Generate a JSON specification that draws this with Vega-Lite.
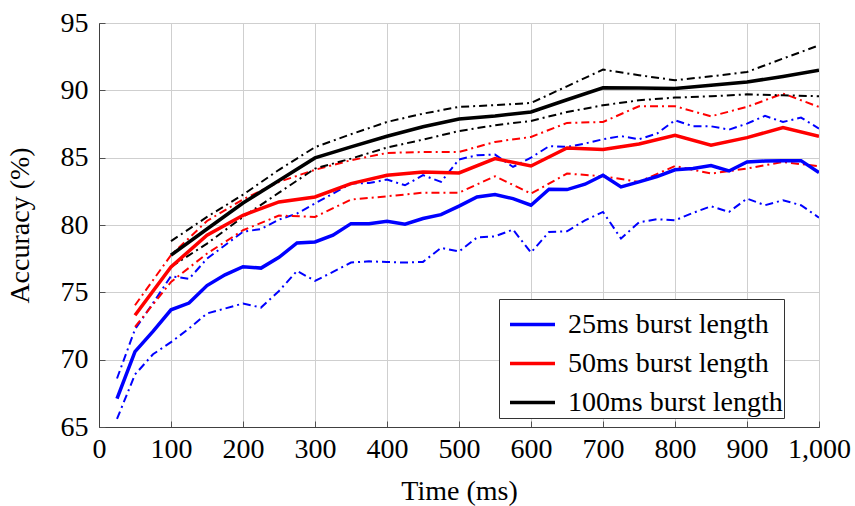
{
  "$schema": "https://vega.github.io/schema/vega-lite/v6.json",
  "autosize": "none",
  "width": 720,
  "height": 404,
  "padding": {"left": 99, "top": 23, "right": 36, "bottom": 79},
  "background": "white",
  "config": {
    "view": {"stroke": "#404040", "strokeWidth": 1},
    "font": "Liberation Serif",
    "style": {
      "guide-label": {"font": "Liberation Serif", "fontSize": 28, "fill": "#000"},
      "guide-title": {"font": "Liberation Serif", "fontSize": 28, "fill": "#000"}
    },
    "axis": {
      "labelFont": "Liberation Serif",
      "labelFontSize": 28,
      "labelColor": "#000",
      "labelOverlap": false,
      "labelFlush": false,
      "titleFont": "Liberation Serif",
      "titleFontSize": 28,
      "titleFontWeight": "normal",
      "titleColor": "#000",
      "gridColor": "#cfcfcf",
      "gridWidth": 1,
      "domainColor": "#404040",
      "tickColor": "#505050",
      "tickSize": -6,
      "labelPadding": 17
    },
    "legend": {
      "labelFont": "Liberation Serif",
      "labelFontSize": 28,
      "labelColor": "#000"
    }
  },
  "datasets": {
    "acc": [
      {"time": 25, "series": "25ms burst length", "mean": 67.1, "upper": 68.6, "lower": 65.6},
      {"time": 50, "series": "25ms burst length", "mean": 70.6, "upper": 72.25, "lower": 68.9},
      {"time": 75, "series": "25ms burst length", "mean": 72.1, "upper": 74.2, "lower": 70.4},
      {"time": 100, "series": "25ms burst length", "mean": 73.7, "upper": 76.2, "lower": 71.3},
      {"time": 125, "series": "25ms burst length", "mean": 74.2, "upper": 76.0, "lower": 72.31},
      {"time": 150, "series": "25ms burst length", "mean": 75.5, "upper": 77.5, "lower": 73.43},
      {"time": 175, "series": "25ms burst length", "mean": 76.3, "upper": 78.5, "lower": 73.8},
      {"time": 200, "series": "25ms burst length", "mean": 76.9, "upper": 79.5, "lower": 74.17},
      {"time": 225, "series": "25ms burst length", "mean": 76.8, "upper": 79.7, "lower": 73.87},
      {"time": 250, "series": "25ms burst length", "mean": 77.6, "upper": 80.4, "lower": 75.1},
      {"time": 275, "series": "25ms burst length", "mean": 78.67, "upper": 80.85, "lower": 76.59},
      {"time": 300, "series": "25ms burst length", "mean": 78.74, "upper": 81.6, "lower": 75.85},
      {"time": 325, "series": "25ms burst length", "mean": 79.24, "upper": 82.33, "lower": 76.52},
      {"time": 350, "series": "25ms burst length", "mean": 80.1, "upper": 83.08, "lower": 77.21},
      {"time": 375, "series": "25ms burst length", "mean": 80.1, "upper": 83.12, "lower": 77.3},
      {"time": 400, "series": "25ms burst length", "mean": 80.28, "upper": 83.37, "lower": 77.26},
      {"time": 425, "series": "25ms burst length", "mean": 80.06, "upper": 82.95, "lower": 77.21},
      {"time": 450, "series": "25ms burst length", "mean": 80.48, "upper": 83.7, "lower": 77.26},
      {"time": 475, "series": "25ms burst length", "mean": 80.77, "upper": 83.2, "lower": 78.3},
      {"time": 500, "series": "25ms burst length", "mean": 81.4, "upper": 84.87, "lower": 78.03},
      {"time": 525, "series": "25ms burst length", "mean": 82.08, "upper": 85.18, "lower": 79.07},
      {"time": 550, "series": "25ms burst length", "mean": 82.26, "upper": 85.23, "lower": 79.16},
      {"time": 575, "series": "25ms burst length", "mean": 81.96, "upper": 84.31, "lower": 79.66},
      {"time": 600, "series": "25ms burst length", "mean": 81.47, "upper": 85.0, "lower": 77.95},
      {"time": 625, "series": "25ms burst length", "mean": 82.65, "upper": 85.85, "lower": 79.48},
      {"time": 650, "series": "25ms burst length", "mean": 82.63, "upper": 85.8, "lower": 79.53},
      {"time": 675, "series": "25ms burst length", "mean": 83.03, "upper": 86.05, "lower": 80.35},
      {"time": 700, "series": "25ms burst length", "mean": 83.7, "upper": 86.37, "lower": 80.97},
      {"time": 725, "series": "25ms burst length", "mean": 82.83, "upper": 86.6, "lower": 78.99},
      {"time": 750, "series": "25ms burst length", "mean": 83.2, "upper": 86.37, "lower": 80.2},
      {"time": 775, "series": "25ms burst length", "mean": 83.6, "upper": 86.79, "lower": 80.43},
      {"time": 800, "series": "25ms burst length", "mean": 84.1, "upper": 87.78, "lower": 80.35},
      {"time": 825, "series": "25ms burst length", "mean": 84.19, "upper": 87.33, "lower": 80.9},
      {"time": 850, "series": "25ms burst length", "mean": 84.41, "upper": 87.33, "lower": 81.39},
      {"time": 875, "series": "25ms burst length", "mean": 84.01, "upper": 87.08, "lower": 80.97},
      {"time": 900, "series": "25ms burst length", "mean": 84.68, "upper": 87.53, "lower": 81.96},
      {"time": 925, "series": "25ms burst length", "mean": 84.75, "upper": 88.1, "lower": 81.47},
      {"time": 950, "series": "25ms burst length", "mean": 84.78, "upper": 87.65, "lower": 81.84},
      {"time": 975, "series": "25ms burst length", "mean": 84.78, "upper": 87.98, "lower": 81.47},
      {"time": 1000, "series": "25ms burst length", "mean": 83.89, "upper": 87.16, "lower": 80.55},
      {"time": 50, "series": "50ms burst length", "mean": 73.3, "upper": 74.04, "lower": 72.43},
      {"time": 100, "series": "50ms burst length", "mean": 76.89, "upper": 77.76, "lower": 75.77},
      {"time": 150, "series": "50ms burst length", "mean": 79.24, "upper": 80.3, "lower": 77.88},
      {"time": 200, "series": "50ms burst length", "mean": 80.72, "upper": 81.9, "lower": 79.61},
      {"time": 250, "series": "50ms burst length", "mean": 81.71, "upper": 83.2, "lower": 80.7},
      {"time": 300, "series": "50ms burst length", "mean": 82.08, "upper": 84.1, "lower": 80.6},
      {"time": 350, "series": "50ms burst length", "mean": 83.07, "upper": 84.81, "lower": 81.89},
      {"time": 400, "series": "50ms burst length", "mean": 83.69, "upper": 85.35, "lower": 82.13},
      {"time": 450, "series": "50ms burst length", "mean": 83.94, "upper": 85.42, "lower": 82.4},
      {"time": 500, "series": "50ms burst length", "mean": 83.87, "upper": 85.42, "lower": 82.4},
      {"time": 550, "series": "50ms burst length", "mean": 84.93, "upper": 86.17, "lower": 83.62},
      {"time": 600, "series": "50ms burst length", "mean": 84.38, "upper": 86.54, "lower": 82.33},
      {"time": 650, "series": "50ms burst length", "mean": 85.72, "upper": 87.58, "lower": 83.82},
      {"time": 700, "series": "50ms burst length", "mean": 85.6, "upper": 87.65, "lower": 83.62},
      {"time": 750, "series": "50ms burst length", "mean": 86.02, "upper": 88.82, "lower": 83.2},
      {"time": 800, "series": "50ms burst length", "mean": 86.66, "upper": 88.82, "lower": 84.38},
      {"time": 850, "series": "50ms burst length", "mean": 85.92, "upper": 88.07, "lower": 83.82},
      {"time": 900, "series": "50ms burst length", "mean": 86.49, "upper": 88.77, "lower": 84.19},
      {"time": 950, "series": "50ms burst length", "mean": 87.23, "upper": 89.76, "lower": 84.68},
      {"time": 1000, "series": "50ms burst length", "mean": 86.59, "upper": 88.77, "lower": 84.36},
      {"time": 100, "series": "100ms burst length", "mean": 77.76, "upper": 78.8, "lower": 76.89},
      {"time": 150, "series": "100ms burst length", "mean": 79.7, "upper": 80.6, "lower": 78.62},
      {"time": 200, "series": "100ms burst length", "mean": 81.63, "upper": 82.25, "lower": 80.6},
      {"time": 250, "series": "100ms burst length", "mean": 83.3, "upper": 84.1, "lower": 82.4},
      {"time": 300, "series": "100ms burst length", "mean": 84.98, "upper": 85.78, "lower": 84.19},
      {"time": 350, "series": "100ms burst length", "mean": 85.8, "upper": 86.74, "lower": 84.93},
      {"time": 400, "series": "100ms burst length", "mean": 86.59, "upper": 87.65, "lower": 85.75},
      {"time": 450, "series": "100ms burst length", "mean": 87.3, "upper": 88.27, "lower": 86.34},
      {"time": 500, "series": "100ms burst length", "mean": 87.87, "upper": 88.77, "lower": 86.98},
      {"time": 550, "series": "100ms burst length", "mean": 88.1, "upper": 88.9, "lower": 87.4},
      {"time": 600, "series": "100ms burst length", "mean": 88.39, "upper": 89.06, "lower": 87.73},
      {"time": 650, "series": "100ms burst length", "mean": 89.3, "upper": 90.3, "lower": 88.39},
      {"time": 700, "series": "100ms burst length", "mean": 90.19, "upper": 91.54, "lower": 88.89},
      {"time": 750, "series": "100ms burst length", "mean": 90.18, "upper": 91.12, "lower": 89.26},
      {"time": 800, "series": "100ms burst length", "mean": 90.13, "upper": 90.75, "lower": 89.46},
      {"time": 850, "series": "100ms burst length", "mean": 90.37, "upper": 91.04, "lower": 89.56},
      {"time": 900, "series": "100ms burst length", "mean": 90.62, "upper": 91.36, "lower": 89.7},
      {"time": 950, "series": "100ms burst length", "mean": 91.03, "upper": 92.36, "lower": 89.63},
      {"time": 1000, "series": "100ms burst length", "mean": 91.49, "upper": 93.34, "lower": 89.56}
    ]
  },
  "data": {"name": "acc"},
  "encoding": {
    "x": {
      "field": "time", "type": "quantitative",
      "scale": {"domain": [0, 1000], "nice": false, "zero": false},
      "axis": {"title": "Time (ms)", "values": [0,100,200,300,400,500,600,700,800,900,1000], "format": ",d", "labelPadding": 14, "titlePadding": 14}
    },
    "color": {
      "field": "series", "type": "nominal",
      "scale": {"domain": ["25ms burst length", "50ms burst length", "100ms burst length"], "range": ["#0000ff", "#ff0000", "#000000"]},
      "legend": {
        "title": null,
        "orient": "none",
        "legendX": 400,
        "legendY": 276,
        "symbolType": "stroke",
        "symbolSize": 2025,
        "symbolStrokeWidth": 3.5,
        "symbolDash": [1, 0],
        "symbolOffset": 8,
        "labelOffset": 11,
        "rowPadding": -11,
        "padding": 1,
        "strokeColor": "#333",
        "fillColor": "white",
        "labelFont": "Liberation Serif",
        "labelFontSize": 28,
        "labelColor": "#000",
        "labelLimit": 400
      }
    }
  },
  "layer": [
    {
      "mark": {"type": "line", "strokeWidth": 2, "strokeDash": [8, 4, 2, 4], "clip": true},
      "encoding": {
        "y": {"field": "upper", "type": "quantitative", "scale": {"domain": [65, 95], "nice": false, "zero": false},
          "axis": {"title": "Accuracy (%)", "values": [65,70,75,80,85,90,95], "titlePadding": 26}}
      }
    },
    {
      "mark": {"type": "line", "strokeWidth": 2, "strokeDash": [8, 4, 2, 4], "clip": true},
      "encoding": {
        "y": {"field": "lower", "type": "quantitative"}
      }
    },
    {
      "mark": {"type": "line", "strokeWidth": 3.5, "clip": true},
      "encoding": {
        "y": {"field": "mean", "type": "quantitative"}
      }
    }
  ]
}
